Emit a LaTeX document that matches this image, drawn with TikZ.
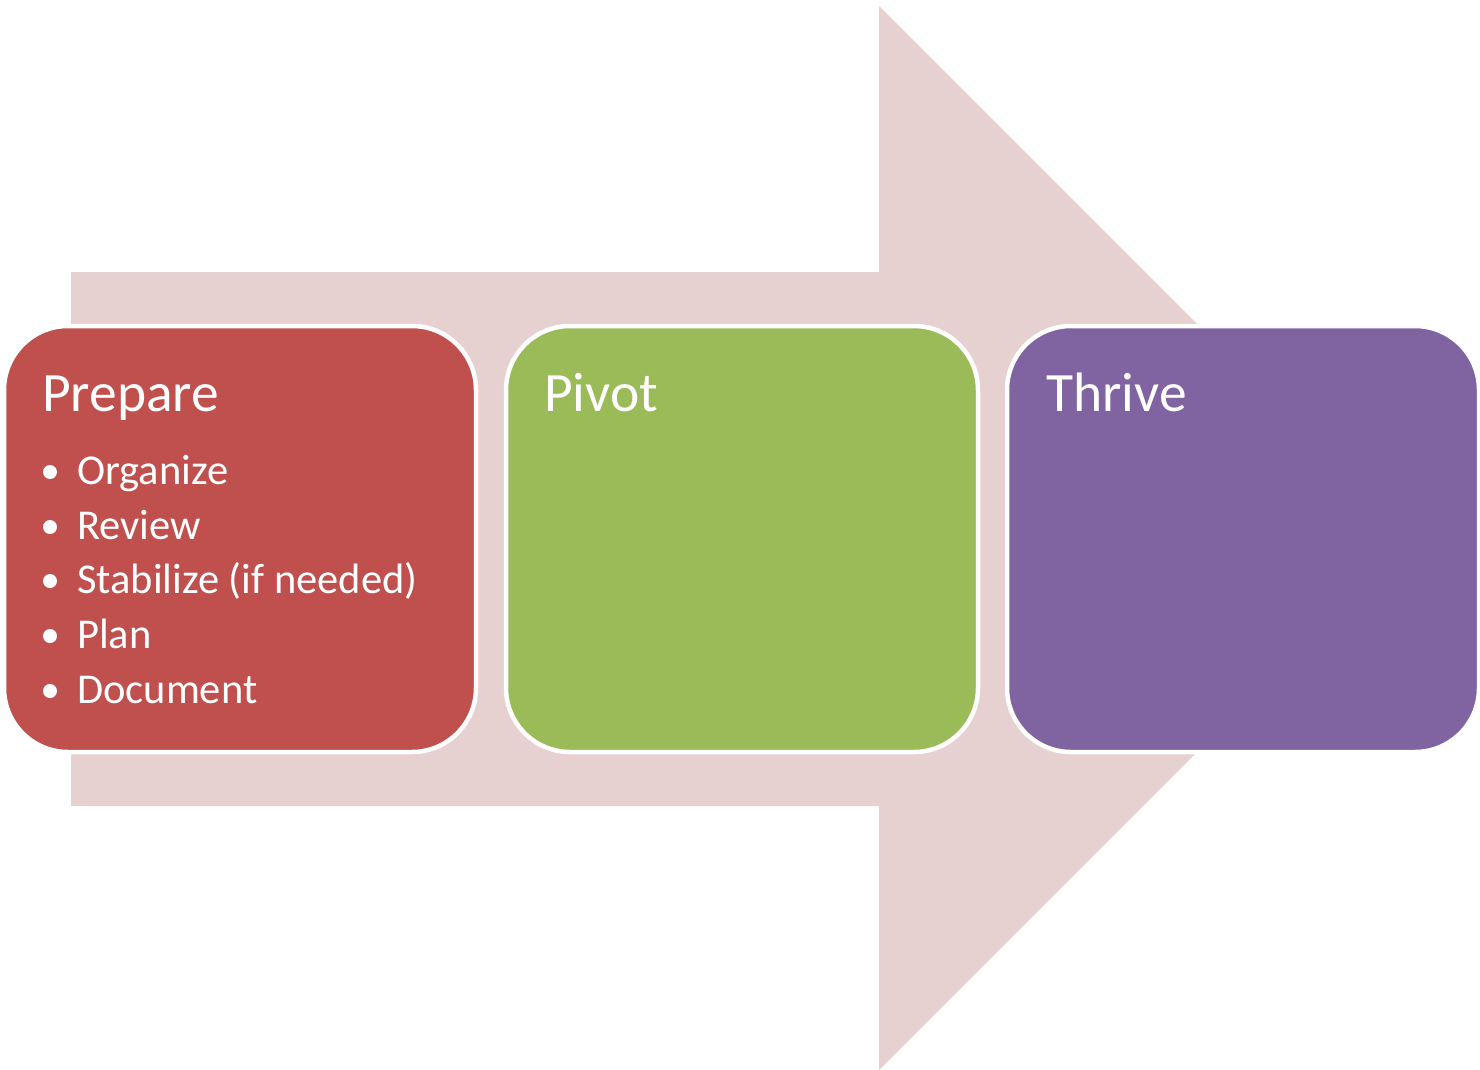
\documentclass[tikz,border=0pt]{standalone}
\usepackage{fontspec}
\setmainfont{Carlito}
\definecolor{arrowpink}{HTML}{E7D0D0}
\definecolor{prepred}{HTML}{C0504D}
\definecolor{pivgreen}{HTML}{9BBB59}
\definecolor{thrpurple}{HTML}{8064A2}
\tikzset{
  stage/.style={draw=white, line width=4.5pt, rounded corners=64pt, minimum width=472pt, minimum height=426pt, inner sep=0pt, outer sep=0pt, anchor=north west},
  title/.style={text=white, font=\fontsize{55.5}{60}\selectfont, anchor=base west, inner sep=0pt},
  item/.style={text=white, font=\fontsize{42.5}{48}\selectfont, anchor=base west, inner sep=0pt},
  dot/.style={circle, fill=white, minimum size=14pt, inner sep=0pt}
}
\begin{document}
\begin{tikzpicture}[x=1pt,y=-1pt]
\useasboundingbox (0,0) rectangle (1480,1070);
\fill[arrowpink] (71,272) -- (879,272) -- (879,6) -- (1411,538) -- (879,1070) -- (879,806) -- (71,806) -- cycle;
\node[stage, fill=prepred] (prep) at (4,326) {};
\node[stage, fill=pivgreen] (piv) at (506,326) {};
\node[stage, fill=thrpurple] (thr) at (1007,326) {};
\node[title] (tprep) at (42,411) {Prepare};
\node[title] (tpiv) at (544,411) {Pivot};
\node[title] (tthr) at (1046,411) {Thrive};
\foreach \t/\y/\n in {Organize/484/a, Review/539/b, Stabilize (if needed)/593/c, Plan/648/d, Document/703/e}{
  \node[dot] (d\n) at (50,\y-12) {};
  \node[item] (i\n) at (77,\y) {\t};
}
\end{tikzpicture}
\end{document}
